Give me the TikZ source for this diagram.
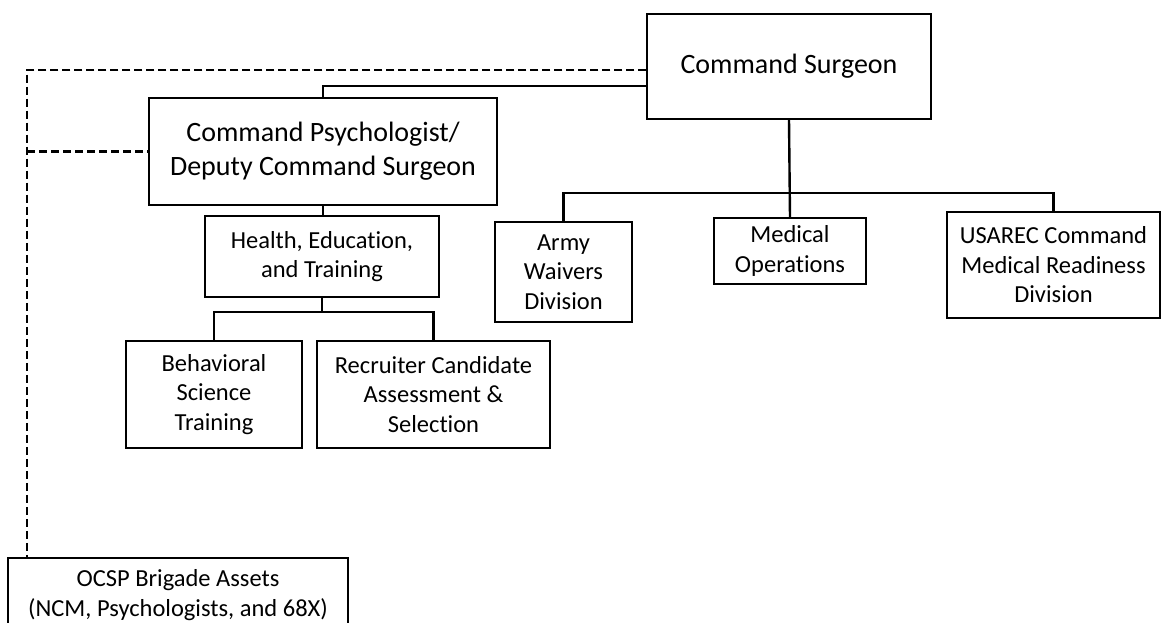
\documentclass[tikz,border=0pt]{standalone}
\usepackage{fontspec}
\setmainfont{Carlito}[Ligatures={NoCommon}]
\begin{document}
\begin{tikzpicture}[x=1pt,y=-1pt,
  box/.style={draw, line width=1.5pt, align=center, inner sep=0pt, fill=white},
  bigtext/.style={font=\fontsize{28}{34}\selectfont},
  smalltext/.style={font=\fontsize{24.5}{29.5}\selectfont},
  link/.style={draw, line width=2.4pt},
  dotted link/.style={draw, line width=2.2pt, dash pattern=on 8pt off 4pt}]
\useasboundingbox (0,0) rectangle (1162,623);

% top level
\node[box, bigtext, minimum width=284pt, minimum height=105pt] (cs) at (789,66.5) {Command Surgeon};
\node[box, bigtext, minimum width=348pt, minimum height=107pt] (cp) at (323,151.5) {Command Psychologist/\\Deputy Command Surgeon};

% psychologist branch
\node[box, smalltext, minimum width=234pt, minimum height=81pt] (het) at (322,256.5) {Health, Education,\\and Training};
\node[box, smalltext, minimum width=176pt, minimum height=107pt] (bst) at (214,394.5) {Behavioral\\Science\\Training};
\node[box, smalltext, minimum width=233pt, minimum height=107pt] (rcas) at (433.5,394.5) {Recruiter Candidate\\Assessment \&\\Selection};

% surgeon branch
\node[box, smalltext, minimum width=137pt, minimum height=100pt] (aw) at (563.5,272) {Army\\Waivers\\Division};
\node[box, smalltext, minimum width=152pt, minimum height=66pt] (mo) at (790,251) {Medical\\Operations};
\node[box, smalltext, minimum width=213pt, minimum height=106pt] (us) at (1053.5,265) {USAREC Command\\Medical Readiness\\Division};

% brigade assets
\node[box, smalltext, minimum width=340pt, minimum height=74pt] (ocsp) at (178,595) {OCSP Brigade Assets\\(NCM, Psychologists, and 68X)};

% solid reporting lines
\draw[link] ([yshift=-19.5pt]cs.west) -| (cp.north);
\draw[link] (cp.south) -- (cp.south |- het.north);
\coordinate (hj) at (322,312);
\draw[link] (het.south) -- (hj);
\draw[link] (bst.north) |- (hj) -| (rcas.north);
\coordinate (cj) at (790,193);
\draw[link] (cs.south) -- (mo.north);
\draw[link] (aw.north) |- (cj) -| (us.north);

% dashed coordination lines
\coordinate (dl) at (27,70);
\draw[dotted link] ([yshift=-3.5pt]cs.west) -- (dl) -- (dl |- ocsp.north);
\draw[dotted link] (dl |- cp.west) -- (cp.west);
\end{tikzpicture}
\end{document}
